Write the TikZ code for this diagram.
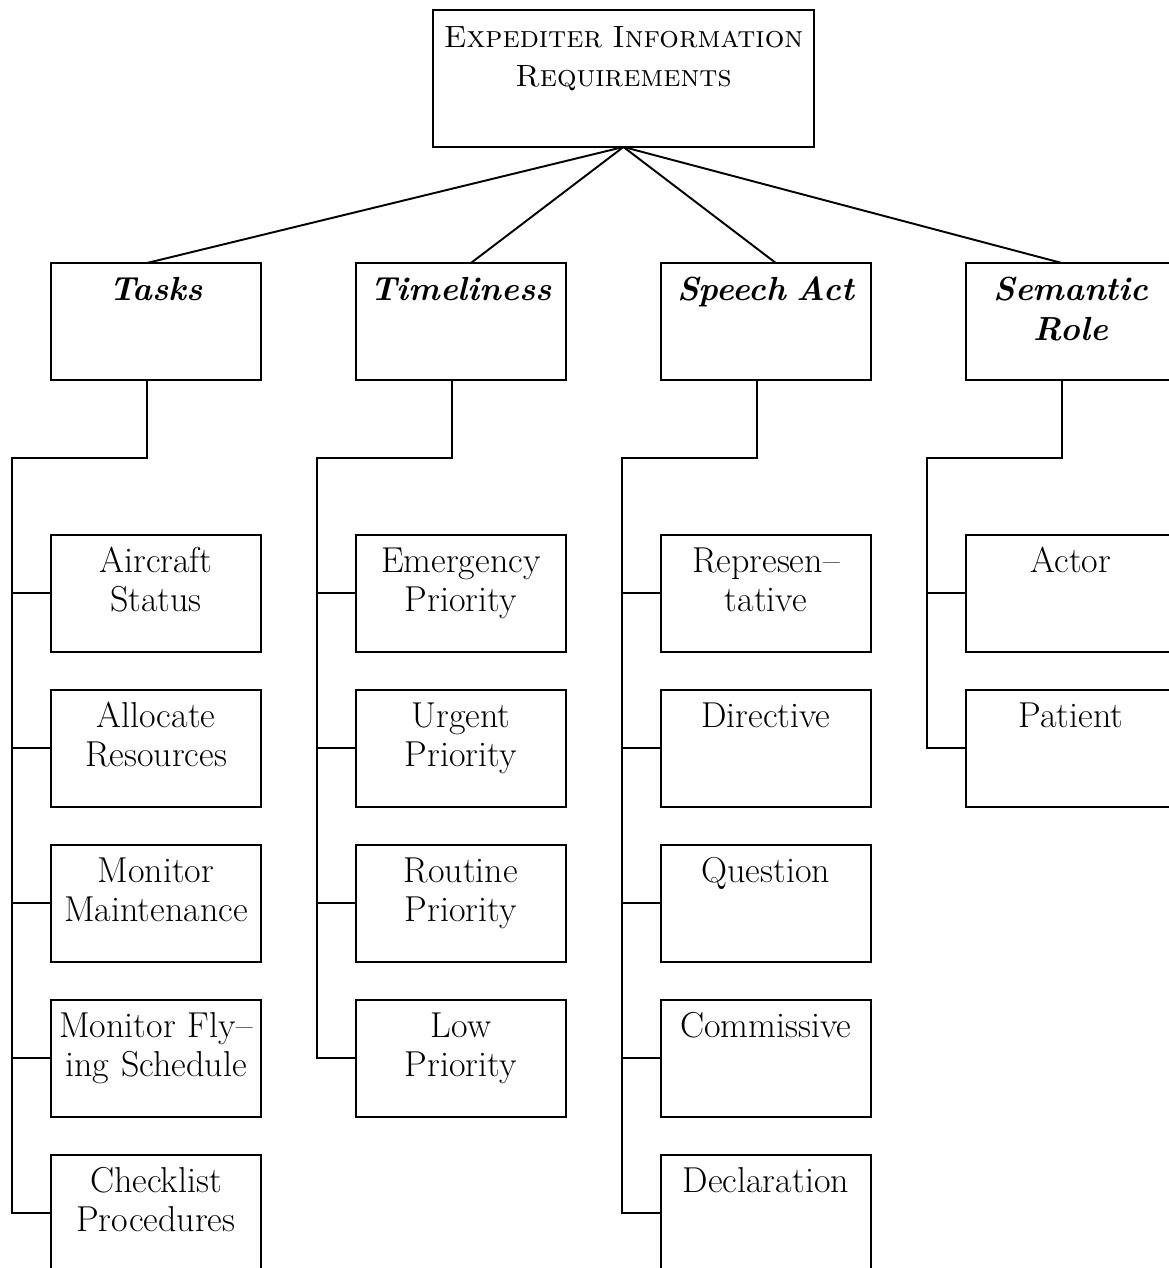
\documentclass[tikz,border=0pt]{standalone}
\usetikzlibrary{positioning,calc}
\newcommand{\boxfont}{\fontsize{20.5}{22.2}\selectfont}
\tikzset{
  topbox/.style={rectangle, draw, line width=1.1pt, inner sep=0pt, outer sep=0pt, align=center,
                 text width=7.62cm, text height=0.76cm, text depth=1.98cm,
                 font=\fontsize{17.5}{22.2}\selectfont},
  headbox/.style={rectangle, draw, line width=1.1pt, inner sep=0pt, outer sep=0pt, align=center,
                  text width=4.2cm, text height=0.76cm, text depth=1.58cm,
                  font=\fontsize{19}{22.2}\selectfont\bfseries\itshape},
  itembox/.style={headbox, font=\boxfont},
  link/.style={line width=1.1pt},
}
\begin{document}
\begin{tikzpicture}[x=0.02cm, y=-0.02cm, node distance=0.76cm]
  \useasboundingbox (0,0) rectangle (1169,1268);
  \clip (0,0) rectangle (1169,1268);

  % root
  \node[topbox, anchor=north west] (top) at (433,10)
    {\textsc{Expediter Information}\\\textsc{Requirements}};

  % the four categories
  \node[headbox, anchor=north west] (tasks) at (51,263) {Tasks};
  \node[headbox, right=1.9cm of tasks] (timel) {Timeliness};
  \node[headbox, right=1.9cm of timel] (speech) {Speech Act};
  \node[headbox, right=1.9cm of speech] (semrole) {Semantic\\Role};

  % tasks
  \node[itembox, below=3.1cm of tasks] (ta1) {Aircraft\\Status};
  \node[itembox, below=of ta1] (ta2) {Allocate\\Resources};
  \node[itembox, below=of ta2] (ta3) {Monitor\\Maintenance};
  \node[itembox, below=of ta3] (ta4) {Monitor Fly--\\ing Schedule};
  \node[itembox, below=of ta4] (ta5) {Checklist\\Procedures};

  % timeliness
  \node[itembox, below=3.1cm of timel] (ti1) {Emergency\\Priority};
  \node[itembox, below=of ti1] (ti2) {Urgent\\Priority};
  \node[itembox, below=of ti2] (ti3) {Routine\\Priority};
  \node[itembox, below=of ti3] (ti4) {Low\\Priority};

  % speech act
  \node[itembox, below=3.1cm of speech] (sa1) {Represen--\\tative};
  \node[itembox, below=of sa1] (sa2) {Directive};
  \node[itembox, below=of sa2] (sa3) {Question};
  \node[itembox, below=of sa3] (sa4) {Commissive};
  \node[itembox, below=of sa4] (sa5) {Declaration};

  % semantic role
  \node[itembox, below=3.1cm of semrole] (sr1) {Actor};
  \node[itembox, below=of sr1] (sr2) {Patient};

  % root to categories
  \draw[link] (top.south) -- ($(tasks.north)+(-9,0)$);
  \draw[link] (top.south) -- ($(timel.north)+(10,0)$);
  \draw[link] (top.south) -- ($(speech.north)+(10,0)$);
  \draw[link] (top.south) -- ($(semrole.north)+(-9,0)$);

  % buses
  \draw[link] ($(tasks.south)+(-9,0)$) -- ++(0,78) -| ($(ta5.west)+(-39,0)$) -- (ta5.west);
  \draw[link] ($(timel.south)+(-9,0)$) -- ++(0,78) -| ($(ti4.west)+(-39,0)$) -- (ti4.west);
  \draw[link] ($(speech.south)+(-9,0)$) -- ++(0,78) -| ($(sa5.west)+(-39,0)$) -- (sa5.west);
  \draw[link] ($(semrole.south)+(-9,0)$) -- ++(0,78) -| ($(sr2.west)+(-39,0)$) -- (sr2.west);
  \foreach \n in {ta1,ta2,ta3,ta4,ti1,ti2,ti3,sa1,sa2,sa3,sa4,sr1}
    \draw[link] (\n.west) -- ++(-39,0);
\end{tikzpicture}
\end{document}
